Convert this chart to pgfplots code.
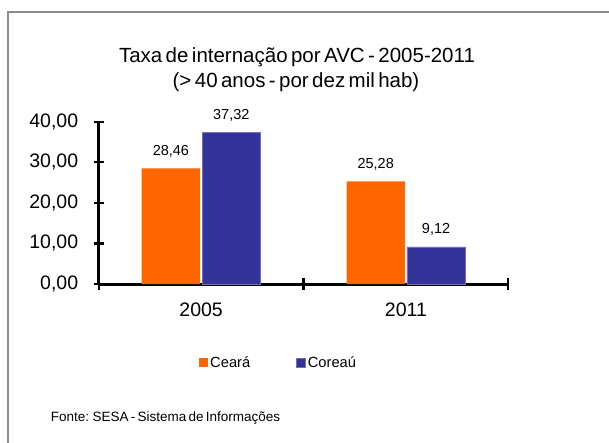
\documentclass[border=0pt]{standalone}
\usepackage{pgfplots}
\pgfplotsset{compat=1.18}
\usepackage{fontspec}
\setmainfont{Liberation Sans}
\newfontfamily\tightfont[WordSpace=0.5]{Liberation Sans}
\newfontfamily\footfont[WordSpace=0.6]{Liberation Sans}
\definecolor{ceara}{HTML}{FF6600}
\definecolor{coreau}{HTML}{333399}
\begin{document}
\begin{tikzpicture}
\useasboundingbox (0,0) rectangle (609bp,-443bp);
\draw[gray!90, line width=1.5bp] (8bp,-443bp) -- (8bp,-12bp) -- (609bp,-12bp);
\node[anchor=base, inner sep=0pt, font=\tightfont\fontsize{20.5bp}{24bp}\selectfont] at (297bp,-62bp) {Taxa de internação por AVC - 2005-2011};
\node[anchor=base, inner sep=0pt, font=\tightfont\fontsize{20.5bp}{24bp}\selectfont] at (296bp,-87bp) {(> 40 anos - por dez mil hab)};
\begin{axis}[
  at={(201.1bp,-284bp)}, anchor=origin,
  scale only axis, width=409.6bp, height=162.4bp,
  xmin=-0.5, xmax=1.5, ymin=0, ymax=40,
  axis lines=left,
  axis line style={-},
  every outer x axis line/.append style={line width=3bp, black},
  every outer y axis line/.append style={line width=3bp, black},
  ybar, bar width=0.285, bar shift auto,
  xtick={0,1}, xticklabels={2005,2011},
  major x tick style={draw=none},
  minor xtick={-0.5,0.5,1.5},
  minor tick length=12bp,
  every tick/.append style={line width=2.2bp, black},
  ytick={0,10,20,30,40},
  major tick length=10bp,
  tick align=center,
  /pgf/number format/assume math mode=true,
  yticklabel={\pgfmathprintnumber[fixed, fixed zerofill, precision=2, use comma]{\tick}},
  ticklabel style={font=\fontsize{19.5bp}{22bp}\selectfont},
  xticklabel style={yshift=-10bp},
  yticklabel style={xshift=-12bp},
  nodes near coords={\pgfmathprintnumber[fixed, fixed zerofill, precision=2, use comma]{\pgfplotspointmeta}},
  every node near coord/.append style={font=\fontsize{14.5bp}{17bp}\selectfont, anchor=base, yshift=13bp, inner sep=0pt},
  legend columns=2,
  legend style={at={(0.245,-0.486)}, anchor=west, draw=none, fill=none, inner sep=0pt,
     font=\fontsize{14.7bp}{17bp}\selectfont, /tikz/every even column/.append style={column sep=44bp}},
  legend image code/.code={\fill[#1] (0bp,-4.5bp) rectangle (9bp,4.5bp);},
  clip=false,
]
\addplot[fill=ceara, draw=none] coordinates {(0,28.46) (1,25.28)};
\addplot[fill=coreau, draw=coreau!70!white, line width=0.6bp] coordinates {(0,37.32) (1,9.12)};
\legend{Ceará,Coreaú}
\end{axis}
\node[anchor=base west, inner sep=0pt, font=\footfont\fontsize{13.5bp}{15bp}\selectfont] at (50.7bp,-421.7bp) {Fonte: SESA - Sistema de Informações};
\end{tikzpicture}
\end{document}
